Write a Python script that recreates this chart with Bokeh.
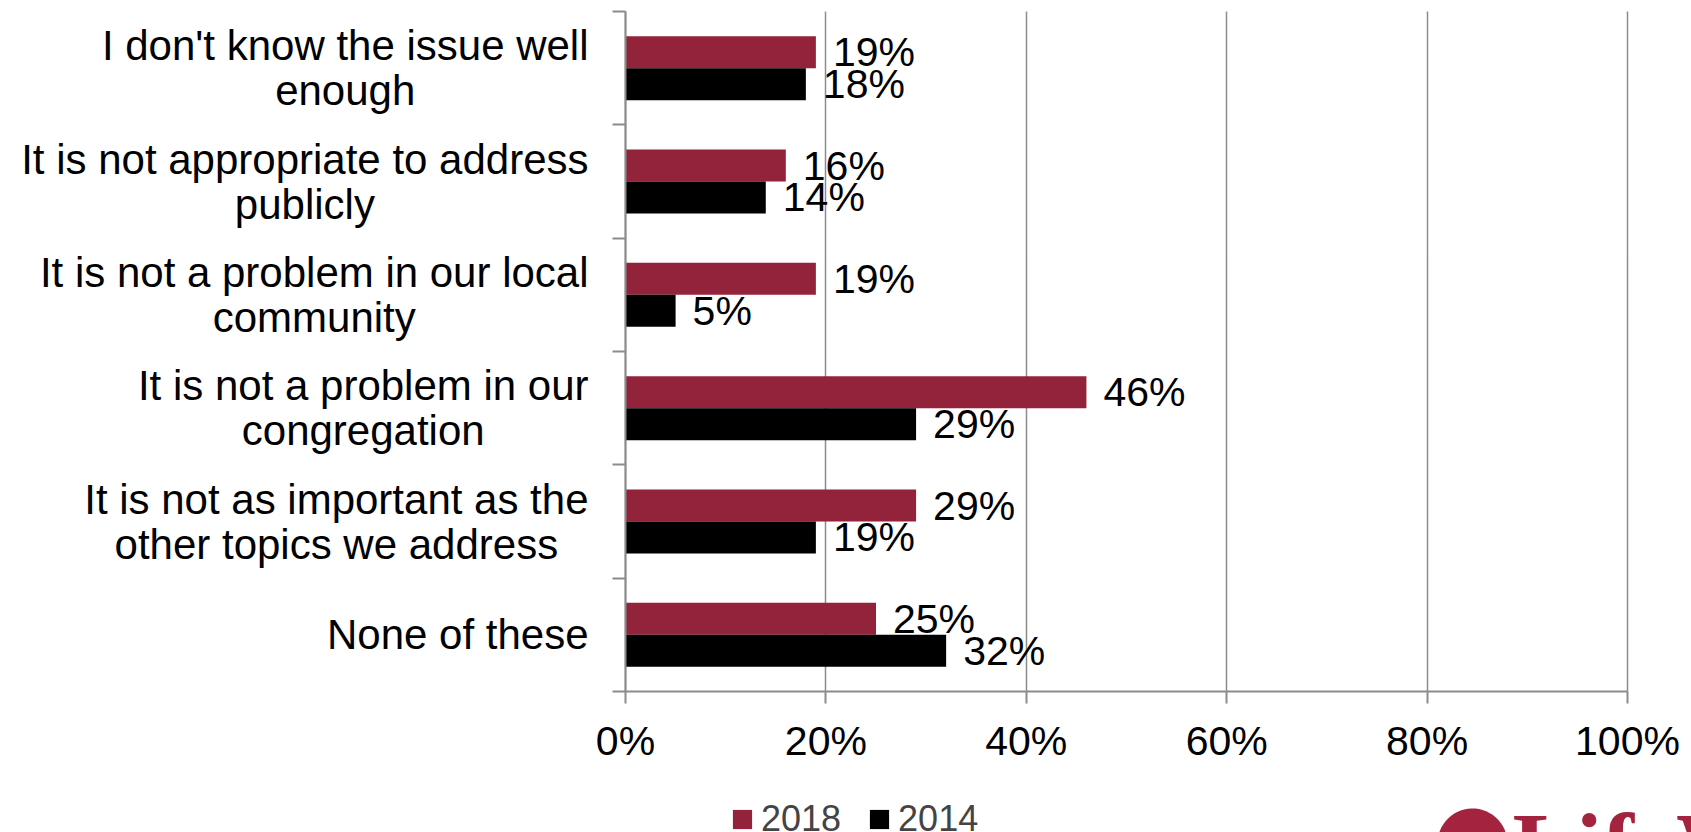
import numpy as np
from bokeh.plotting import figure
from bokeh.models import (Range1d, FixedTicker, PrintfTickFormatter, ColumnDataSource,
                          LabelSet, Label, Legend, LegendItem, PolyAnnotation)
from bokeh.transform import dodge
from bokeh.core.properties import value
from bokeh.embed import file_html
from bokeh.resources import INLINE

# ---------------- data ----------------
categories = [
    "I don't know the issue well\nenough",
    "It is not appropriate to address\npublicly",
    "It is not a problem in our local\ncommunity",
    "It is not a problem in our\ncongregation",
    "It is not as important as the\nother topics we address",
    "None of these",
]
values_2018 = [19, 16, 19, 46, 29, 25]
values_2014 = [18, 14, 5, 29, 19, 32]
series_names = ["2018", "2014"]
x_ticks = [0, 20, 40, 60, 80, 100]

# ---------------- style / layout (pixels) ----------------
W, H = 1691, 832
AX_L, AX_R, AX_T, AX_B = 625, 1627, 11, 691     # plotting area inside the canvas
RED = "#93233A"
BLACK = "#000000"
GRAY = "#8C8C8C"
FONT = "Liberation Sans"
LABEL_SIZE = 42
LABEL_GAP = 37          # px between label block and the axis
LINE_SP = 45            # px between the lines of a category label
BAR_H = 0.282
OFF = 0.141

# Arial / Liberation Sans advance widths (per 1000 em), used to centre multi-line labels
CHAR_W = {" ": 278, "'": 191, "I": 278, "N": 722, "a": 556, "b": 556, "c": 500, "d": 556,
          "e": 556, "f": 278, "g": 556, "h": 556, "i": 222, "k": 500, "l": 222, "m": 833,
          "n": 556, "o": 556, "p": 556, "r": 333, "s": 500, "t": 278, "u": 556, "w": 722,
          "y": 500}


def text_width(s, size):
    return sum(CHAR_W.get(c, 556) for c in s) * size / 1000.0


n_cat = len(categories)
x_min, x_max = x_ticks[0], x_ticks[-1]
ux = (x_max - x_min) / (AX_R - AX_L)     # data units per pixel (x)
uy = n_cat / (AX_B - AX_T)               # data units per pixel (y)

# category slots: first category on top, one unit per category
slot = [n_cat - i - 0.5 for i in range(n_cat)]

src = ColumnDataSource(dict(
    cat=categories,
    slot=slot,
    v18=values_2018,
    v14=values_2014,
    t18=[f"{v}%" for v in values_2018],
    t14=[f"{v}%" for v in values_2014],
))

# the frame covers the whole canvas; axes are pinned at the data origin
p = figure(width=W, height=H,
           x_range=Range1d(x_min - AX_L * ux, x_max + (W - AX_R) * ux),
           y_range=Range1d(-(H - AX_B) * uy, n_cat + AX_T * uy),
           output_backend="svg", toolbar_location=None, min_border=0)
p.outline_line_color = None
p.background_fill_color = "white"
p.border_fill_color = "white"

# grid (vertical lines only inside the plotting area)
p.ygrid.grid_line_color = None
xg = p.xgrid[0]
xg.ticker = FixedTicker(ticks=x_ticks)
if "cross_bounds" in xg.properties():
    xg.grid_line_color = GRAY
    xg.grid_line_width = 1.5
    xg.cross_bounds = (0, n_cat)
else:
    xg.grid_line_color = None
    p.segment(x0=x_ticks, x1=x_ticks, y0=0, y1=n_cat, line_color=GRAY, line_width=1.5)

# bars
r18 = p.hbar(y=dodge("slot", OFF), left=0, right="v18", height=BAR_H,
             fill_color=RED, line_color=None, source=src)
r14 = p.hbar(y=dodge("slot", -OFF), left=0, right="v14", height=BAR_H,
             fill_color=BLACK, line_color=None, source=src)

# data labels
for col, txt, off in (("v18", "t18", OFF), ("v14", "t14", -OFF)):
    p.text(x=col, y=dodge("slot", off), text=txt, source=src,
           x_offset=17, text_align="left", text_baseline="middle",
           text_font=value(FONT), text_font_size="41px", text_color="black")

# x axis
xa = p.xaxis[0]
xa.fixed_location = 0
xa.bounds = (x_min, x_max)
xa.ticker = FixedTicker(ticks=x_ticks)
xa.formatter = PrintfTickFormatter(format="%d%%")
xa.major_label_text_font = FONT
xa.major_label_text_font_size = "41px"
xa.major_label_text_color = "black"
xa.axis_line_color = GRAY
xa.axis_line_width = 2
xa.major_tick_line_color = GRAY
xa.major_tick_line_width = 2
xa.major_tick_in = 0
xa.major_tick_out = 12
xa.minor_tick_line_color = None
xa.major_label_standoff = 14

# y axis: tick marks at the category boundaries, labels drawn separately
ya = p.yaxis[0]
ya.fixed_location = 0
ya.bounds = (0, n_cat)
ya.ticker = FixedTicker(ticks=list(range(n_cat + 1)))
ya.major_label_overrides = {i: "" for i in range(n_cat + 1)}
ya.major_tick_in = 0
ya.major_tick_out = 13
ya.major_tick_line_color = GRAY
ya.major_tick_line_width = 2
ya.minor_tick_line_color = None
ya.axis_line_color = GRAY
ya.axis_line_width = 2

# category labels: each line centred on the block, block right-aligned left of the axis
line_text, line_x, line_y = [], [], []
for cat, s in zip(categories, slot):
    lines = cat.split("\n")
    block_w = max(text_width(line, LABEL_SIZE) for line in lines)
    cx = x_min - (LABEL_GAP + block_w / 2.0) * ux
    k = len(lines)
    for j, line in enumerate(lines):
        line_text.append(line)
        line_x.append(cx)
        line_y.append(s + ((k - 1) / 2.0 - j) * LINE_SP * uy)
lsrc = ColumnDataSource(dict(text=line_text, x=line_x, y=line_y))
p.add_layout(LabelSet(x="x", y="y", text="text", source=lsrc,
                      text_align="center", text_baseline="middle",
                      text_font=value(FONT), text_font_size=f"{LABEL_SIZE}px",
                      text_color="black"))

# legend
legend = Legend(items=[LegendItem(label=series_names[0], renderers=[r18]),
                       LegendItem(label=series_names[1], renderers=[r14])],
                orientation="horizontal", location=(730, -8),
                padding=0, margin=0, spacing=26, label_standoff=7,
                glyph_width=24, glyph_height=24,
                label_text_font=FONT, label_text_font_size="36px",
                border_line_color=None, background_fill_alpha=0)
p.add_layout(legend, "center")

# logo (only its top is visible at the bottom-right)
LOGO_RED = "#A4233F"
ang = np.linspace(0, 2 * np.pi, 60)
p.add_layout(PolyAnnotation(xs=list(1472 + 35 * np.cos(ang)), ys=list(H - 843 + 35 * np.sin(ang)),
                            xs_units="screen", ys_units="screen",
                            fill_color=LOGO_RED, fill_alpha=1, line_color=None))
p.add_layout(Label(x=1512, y=H - 793, x_units="screen", y_units="screen", text="LifeWay",
                   text_font="Liberation Serif", text_font_size="95px",
                   text_font_style="bold", text_color=LOGO_RED, text_baseline="top"))

open("out.html", "w").write(file_html(p, INLINE))
